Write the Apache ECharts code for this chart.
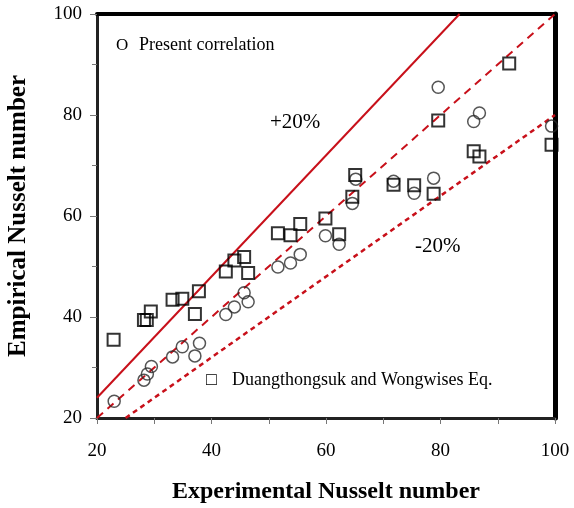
<!DOCTYPE html>
<html>
<head>
<meta charset="utf-8">
<script src="https://cdn.jsdelivr.net/npm/echarts@6/dist/echarts.min.js"></script>
<style>html,body{margin:0;padding:0;background:#fff}#c{width:574px;height:508px}</style>
</head>
<body>
<div id="c"></div>
<script>
var presentX = [23.0, 28.2, 28.8, 29.5, 33.2, 34.9, 37.1, 37.9, 42.5, 44.0, 45.7, 46.4, 51.6, 53.8, 55.5, 59.9, 62.3, 64.6, 65.2, 71.8, 75.4, 78.8, 79.6, 85.8, 86.8, 99.4];
var presentY = [23.3, 27.5, 28.7, 30.2, 32.1, 34.1, 32.3, 34.8, 40.5, 42.0, 44.8, 43.0, 49.9, 50.7, 52.4, 56.1, 54.4, 62.5, 67.3, 66.9, 64.5, 67.5, 85.5, 78.7, 80.4, 77.8];
var dwX = [22.9, 28.2, 28.7, 29.4, 33.2, 34.9, 37.1, 37.8, 42.5, 44.0, 45.7, 46.4, 51.6, 53.8, 55.5, 59.9, 62.3, 64.6, 65.1, 71.8, 75.4, 78.8, 79.6, 85.8, 86.8, 92.0, 99.4];
var dwY = [35.5, 39.4, 39.4, 41.1, 43.4, 43.6, 40.6, 45.1, 49.0, 51.2, 51.9, 48.7, 56.6, 56.2, 58.4, 59.5, 56.4, 63.8, 68.1, 66.2, 66.1, 64.4, 78.9, 72.8, 71.8, 90.2, 74.1];
var plus20 = [[20, 24], [83.333, 100]];
var equal = [[20, 20], [100, 100]];
var minus20 = [[25, 20], [100, 80]];
var xTitle = 'Experimental Nusselt number';
var yTitle = 'Empirical Nusselt number';

function pairs(xs, ys) { return xs.map(function (x, i) { return [x, ys[i]]; }); }
var serif = '"Liberation Serif", "DejaVu Serif", serif';
var red = '#c8101a';

var chart = echarts.init(document.getElementById('c'), null, {renderer: 'canvas'});
chart.setOption({
  animation: false,
  backgroundColor: '#fff',
  grid: {left: 97, right: 19, top: 14, bottom: 90, containLabel: false, outerBoundsMode: 'none'},
  xAxis: [{
    type: 'value', min: 20, max: 100, interval: 20,
    name: xTitle, nameLocation: 'middle', nameGap: 62,
    nameTextStyle: {fontFamily: serif, fontWeight: 'bold', fontSize: 24, color: '#000'},
    axisLine: {lineStyle: {color: '#222', width: 3}},
    axisTick: {inside: false, length: 6, lineStyle: {color: '#777', width: 1}},
    minorTick: {show: true, splitNumber: 2, length: 6, lineStyle: {color: '#777', width: 1}},
    axisLabel: {fontFamily: serif, fontSize: 19, color: '#000', margin: 24},
    splitLine: {show: false}
  }, {
    type: 'value', min: 20, max: 100, position: 'top',
    axisLine: {lineStyle: {color: '#000', width: 4}},
    axisTick: {show: false}, axisLabel: {show: false}, splitLine: {show: false}
  }],
  yAxis: [{
    type: 'value', min: 20, max: 100, interval: 20,
    name: yTitle, nameLocation: 'middle', nameGap: 66, nameRotate: 90,
    nameTextStyle: {fontFamily: serif, fontWeight: 'bold', fontSize: 25, color: '#000'},
    axisLine: {lineStyle: {color: '#222', width: 3}},
    axisTick: {length: 7, lineStyle: {color: '#777', width: 1}},
    minorTick: {show: true, splitNumber: 2, length: 5, lineStyle: {color: '#777', width: 1}},
    axisLabel: {fontFamily: serif, fontSize: 19, color: '#000', margin: 15},
    splitLine: {show: false}
  }, {
    type: 'value', min: 20, max: 100, position: 'right',
    axisLine: {show: true, lineStyle: {color: '#000', width: 5}},
    axisTick: {show: false}, axisLabel: {show: false}, splitLine: {show: false}
  }],
  series: [
    {type: 'line', data: plus20, symbol: 'none', lineStyle: {color: red, width: 2}, z: 1},
    {type: 'line', data: equal, symbol: 'none', lineStyle: {color: red, width: 2, type: [8, 6]}, z: 1},
    {type: 'line', data: minus20, symbol: 'none', lineStyle: {color: red, width: 2.5, type: [5, 4]}, z: 1},
    {type: 'scatter', data: pairs(presentX, presentY), symbol: 'circle', symbolSize: 12,
      itemStyle: {color: 'rgba(255,255,255,0)', borderColor: '#2a2a2a', borderWidth: 1.5}, z: 3},
    {type: 'scatter', data: pairs(dwX, dwY), symbol: 'rect', symbolSize: 12,
      itemStyle: {color: 'rgba(255,255,255,0)', borderColor: '#000', borderWidth: 2}, z: 4}
  ],
  graphic: [
    {type: 'text', left: 116, top: 37, style: {text: 'O', font: '17px ' + serif, fill: '#000'}},
    {type: 'text', left: 139, top: 36, style: {text: 'Present correlation', font: '18px ' + serif, fill: '#000'}},
    {type: 'text', left: 206, top: 371, style: {text: '□', font: '18px ' + serif, fill: '#000'}},
    {type: 'text', left: 232, top: 371, style: {text: 'Duangthongsuk and Wongwises Eq.', font: '18px ' + serif, fill: '#000'}},
    {type: 'text', left: 270, top: 112, style: {text: '+20%', font: '21px ' + serif, fill: '#000'}},
    {type: 'text', left: 415, top: 236, style: {text: '-20%', font: '21px ' + serif, fill: '#000'}}
  ]
});
</script>
</body>
</html>
